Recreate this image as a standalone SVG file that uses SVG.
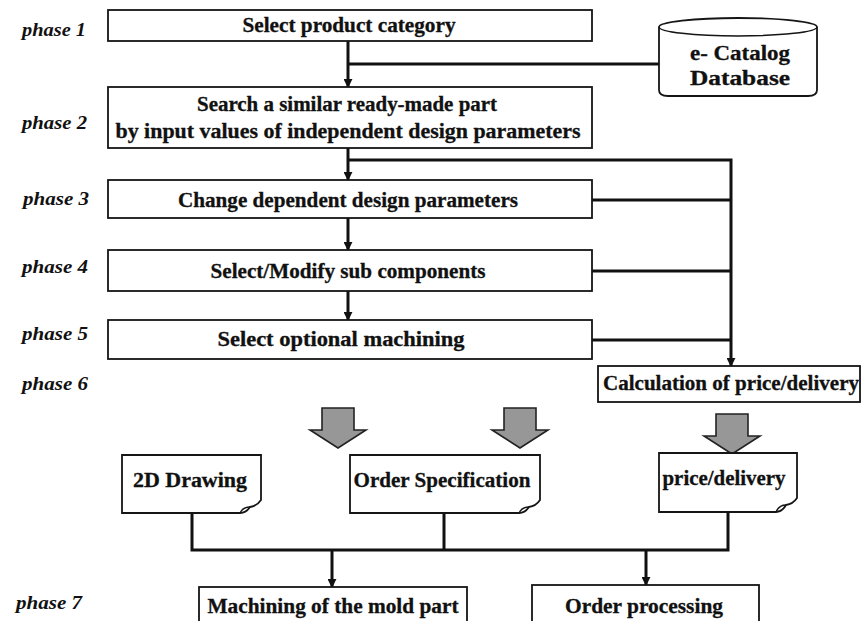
<svg xmlns="http://www.w3.org/2000/svg" width="862" height="621" viewBox="0 0 862 621">
  <style>
    .box { fill: #fff; stroke: #151515; stroke-width: 1.8; }
    .t { font-family: "Liberation Serif", "Times New Roman", serif; font-weight: bold; font-size: 20px; fill: #111; stroke: #111; stroke-width: 0.3; text-anchor: middle; }
    .ph { font-family: "Liberation Serif", "Times New Roman", serif; font-style: italic; font-weight: bold; font-size: 19px; fill: #111; }
    .wire { fill: none; stroke: #111; stroke-width: 3; }
    .fat { fill: #979797; stroke: #222; stroke-width: 1.6; stroke-linejoin: miter; }
    .curl { fill: none; stroke: #151515; stroke-width: 1.5; }
  </style>
  <defs>
    <marker id="tip" viewBox="0 0 10 10" refX="9" refY="5" markerWidth="9" markerHeight="9" markerUnits="userSpaceOnUse" orient="auto">
      <path d="M0,0 L10,5 L0,10 Z" fill="#111"/>
    </marker>
    <!-- wide block arrow, origin at top centre of the shaft -->
    <path id="bigArrow" d="M-16,0 H16 V22 H28 L0,40 L-28,22 H-16 Z"/>
  </defs>

  <rect width="862" height="621" fill="#fff"/>

  <!-- phase labels -->
  <g id="phases">
    <text class="ph" x="22" y="36" textLength="64" lengthAdjust="spacingAndGlyphs">phase 1</text>
    <text class="ph" x="22" y="129" textLength="65" lengthAdjust="spacingAndGlyphs">phase 2</text>
    <text class="ph" x="23" y="205" textLength="66" lengthAdjust="spacingAndGlyphs">phase 3</text>
    <text class="ph" x="22" y="273" textLength="66" lengthAdjust="spacingAndGlyphs">phase 4</text>
    <text class="ph" x="22" y="340" textLength="66" lengthAdjust="spacingAndGlyphs">phase 5</text>
    <text class="ph" x="22" y="390" textLength="66" lengthAdjust="spacingAndGlyphs">phase 6</text>
    <text class="ph" x="16" y="609" textLength="66" lengthAdjust="spacingAndGlyphs">phase 7</text>
  </g>

  <!-- connectors -->
  <g id="connectors">
    <path class="wire" d="M348,41 V87" marker-end="url(#tip)"/>
    <path class="wire" d="M348,64 H659"/>
    <path class="wire" d="M348,148 V180" marker-end="url(#tip)"/>
    <path class="wire" d="M348,160 H731 V366" marker-end="url(#tip)"/>
    <path class="wire" d="M592,200 H731"/>
    <path class="wire" d="M592,271 H731"/>
    <path class="wire" d="M592,340 H731"/>
    <path class="wire" d="M348,218 V250" marker-end="url(#tip)"/>
    <path class="wire" d="M348,291 V320" marker-end="url(#tip)"/>
    <path class="wire" d="M192,513 V550 H728 V512"/>
    <path class="wire" d="M444,513 V550"/>
    <path class="wire" d="M332,550 V587" marker-end="url(#tip)"/>
    <path class="wire" d="M646,550 V585" marker-end="url(#tip)"/>
    <use href="#bigArrow" class="fat" x="338" y="408"/>
    <use href="#bigArrow" class="fat" x="520" y="408"/>
    <use href="#bigArrow" class="fat" x="732" y="414"/>
  </g>

  <g id="select-category">
    <rect class="box" x="108" y="10" width="484" height="31"/>
    <text class="t" x="349" y="32" textLength="213" lengthAdjust="spacingAndGlyphs">Select product category</text>
  </g>

  <g id="catalog-db">
    <path class="box" d="M659,27 A79,9 0 0,1 817,27 V90 Q817,96 808,96 H668 Q659,96 659,90 Z"/>
    <path class="curl" d="M659,27 A79,9 0 0,0 817,27"/>
    <text class="t" x="740" y="60" textLength="100" lengthAdjust="spacingAndGlyphs">e- Catalog</text>
    <text class="t" x="740" y="85" textLength="100" lengthAdjust="spacingAndGlyphs">Database</text>
  </g>

  <g id="search-part">
    <rect class="box" x="108" y="87" width="484" height="61"/>
    <text class="t" x="347" y="111" textLength="300" lengthAdjust="spacingAndGlyphs">Search a similar ready-made part</text>
    <text class="t" x="348" y="138" textLength="465" lengthAdjust="spacingAndGlyphs">by input values of independent design parameters</text>
  </g>

  <g id="dependent-params">
    <rect class="box" x="108" y="180" width="484" height="38"/>
    <text class="t" x="348" y="207" textLength="340" lengthAdjust="spacingAndGlyphs">Change dependent design parameters</text>
  </g>

  <g id="sub-components">
    <rect class="box" x="108" y="250" width="484" height="41"/>
    <text class="t" x="348" y="278" textLength="275" lengthAdjust="spacingAndGlyphs">Select/Modify sub components</text>
  </g>

  <g id="optional-machining">
    <rect class="box" x="108" y="320" width="484" height="39"/>
    <text class="t" x="341" y="346" textLength="247" lengthAdjust="spacingAndGlyphs">Select optional machining</text>
  </g>

  <g id="price-calc">
    <rect class="box" x="598" y="366" width="262" height="36"/>
    <text class="t" x="731" y="390" textLength="256" lengthAdjust="spacingAndGlyphs">Calculation of price/delivery</text>
  </g>

  <g id="drawing-2d">
    <path class="box" d="M122,455 H261 V500 Q257,506 250,507 Q246,513 240,513 H122 Z"/>
    <path class="curl" d="M240,513 Q243,507 250,507"/>
    <text class="t" x="190" y="487" textLength="114" lengthAdjust="spacingAndGlyphs">2D Drawing</text>
  </g>

  <g id="order-spec">
    <path class="box" d="M350,455 H540 V500 Q536,506 529,507 Q525,513 519,513 H350 Z"/>
    <path class="curl" d="M519,513 Q522,507 529,507"/>
    <text class="t" x="442" y="487" textLength="177" lengthAdjust="spacingAndGlyphs">Order Specification</text>
  </g>

  <g id="price-delivery">
    <path class="box" d="M659,453 H797 V498 Q793,504 786,505 Q782,512 776,512 H659 Z"/>
    <path class="curl" d="M776,512 Q779,505 786,505"/>
    <text class="t" x="724" y="485" textLength="123" lengthAdjust="spacingAndGlyphs">price/delivery</text>
  </g>

  <g id="mold-machining">
    <rect class="box" x="199" y="587" width="268" height="40"/>
    <text class="t" x="333" y="613" textLength="251" lengthAdjust="spacingAndGlyphs">Machining of the mold part</text>
  </g>

  <g id="order-processing">
    <rect class="box" x="532" y="585" width="227" height="42"/>
    <text class="t" x="644" y="613" textLength="158" lengthAdjust="spacingAndGlyphs">Order processing</text>
  </g>
</svg>
